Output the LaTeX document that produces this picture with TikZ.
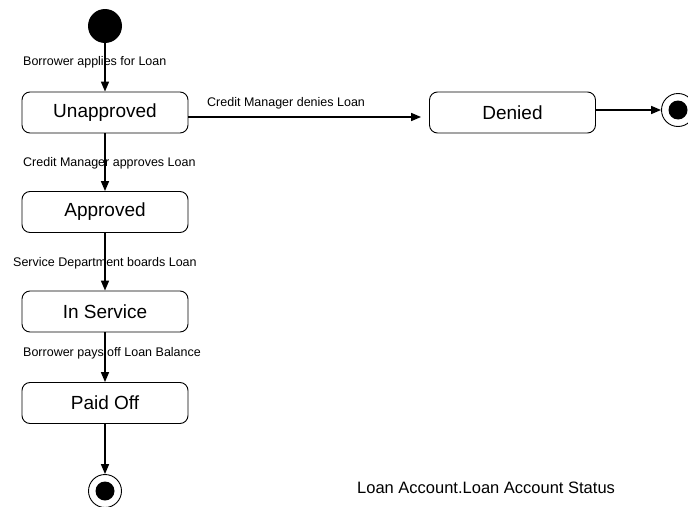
\documentclass[tikz,border=0pt]{standalone}
\usepackage{fontspec}
\setmainfont{Liberation Sans}
\usetikzlibrary{arrows.meta}
\begin{document}
\begin{tikzpicture}[x=1pt,y=-1pt,
  state/.style={draw=black,line width=0.9pt,rounded corners=8pt,
    minimum width=166pt,minimum height=41pt,inner sep=0pt,
    font=\fontsize{19}{22}\selectfont},
  initial/.style={circle,fill=black,minimum size=34pt,inner sep=0pt},
  final/.style={circle,draw=black,line width=0.9pt,fill=white,minimum size=33pt,inner sep=0pt,
    path picture={\fill[black] (path picture bounding box.center) circle[radius=9.5pt];}},
  trans/.style={draw=black,line width=1.6pt,-{Triangle[length=10pt,width=8pt]}},
  tlabel/.style={anchor=west,inner sep=0pt,font=\fontsize{12.5}{14}\selectfont}]
\useasboundingbox (0,0) rectangle (688,506);

% states
\node[initial] (start) at (105,26) {};
\node[state] (unapproved) at (105,112.5) {Unapproved};
\node[state] (approved) at (105,212) {Approved};
\node[state] (inservice) at (105,311.5) {In Service};
\node[state] (paidoff) at (105,403) {Paid Off};
\node[state] (denied) at (512.5,112.5) {Denied};
\node[final] (endA) at (105,491) {};
\node[final] (endB) at (678,110) {};

% transitions
\draw[trans] (start) -- (unapproved);
\draw[trans] (unapproved) -- (approved);
\draw[trans] (approved) -- (inservice);
\draw[trans] (inservice) -- (paidoff);
\draw[trans] (paidoff) -- (endA);
\draw[trans,shorten >=8pt] ([yshift=-4.5pt]unapproved.east) -- ([yshift=-4.5pt]denied.west);
\draw[trans] (denied.east |- endB) -- (endB);

% transition labels
\node[tlabel] (l1) at (23,62) {Borrower applies for Loan};
\node[tlabel] (l2) at (23,163) {Credit Manager approves Loan};
\node[tlabel] (l3) at (13,263) {Service Department boards Loan};
\node[tlabel] (l4) at (23,353) {Borrower pays off Loan Balance};
\node[tlabel] (l5) at (207,103) {Credit Manager denies Loan};

% diagram caption
\node[anchor=west,inner sep=0pt,font=\fontsize{16.5}{19}\selectfont] (caption) at (357,488) {Loan Account.Loan Account Status};
\end{tikzpicture}
\end{document}
